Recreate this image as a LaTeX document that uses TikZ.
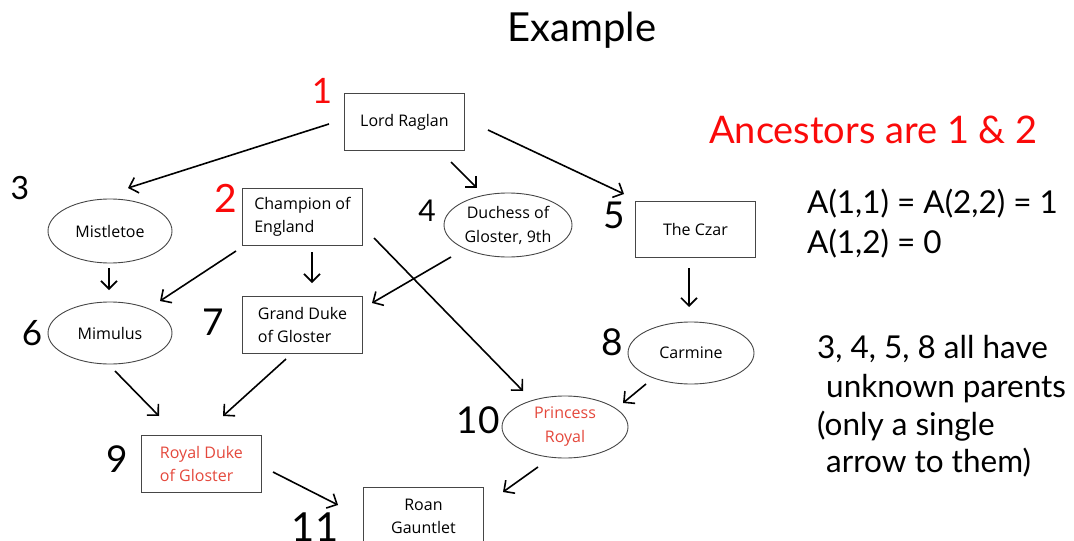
\documentclass[tikz,border=0pt]{standalone}
\usepackage{fontspec}
\setmainfont{Lato}
\newfontfamily\nodefont{Open Sans}
\usetikzlibrary{shapes.geometric,arrows.meta}

\definecolor{hotred}{RGB}{250,10,10}
\definecolor{softred}{RGB}{228,72,60}
\definecolor{edgegray}{RGB}{70,70,70}

\tikzset{
  box/.style={draw=edgegray, line width=0.9pt, rectangle, minimum width=120pt,
    minimum height=57pt, inner sep=0pt, align=left,
    font=\nodefont\fontsize{16}{23}\selectfont},
  oval/.style={draw=edgegray, line width=0.9pt, ellipse, minimum width=126pt,
    minimum height=62pt, inner sep=0pt, align=center,
    font=\nodefont\fontsize{16}{24}\selectfont},
  link/.style={line width=1.6pt, -{Straight Barb[length=8pt,width=16pt,line width=1.6pt]}},
  num/.style={inner sep=0pt, font=\fontsize{37}{37}\selectfont},
  remark/.style={inner sep=0pt, anchor=base west, font=\fontsize{31.5}{31.5}\selectfont},
}

\begin{document}
\begin{tikzpicture}[x=1pt,y=-1pt]
\useasboundingbox (0,0) rectangle (1074,541);

% title
\node[inner sep=0pt, font=\fontsize{40}{40}\selectfont] (title) at (582,30) {Example};

% pedigree members
\node[box, anchor=north west, align=center] (raglan) at (344,93) {Lord Raglan};
\node[oval, minimum width=124pt, minimum height=64pt] (mistletoe) at (110,231) {Mistletoe};
\node[box, anchor=north west] (champion) at (242,188) {Champion of\\England};
\node[oval, minimum width=128pt, minimum height=64pt] (duchess) at (508,225) {Duchess of\\Gloster, 9th};
\node[box, anchor=north west, minimum height=56pt] (czar) at (635,201) {The Czar};
\node[oval, minimum width=124pt] (mimulus) at (110,333) {Mimulus};
\node[box, anchor=north west] (grandduke) at (242,296) {Grand Duke\\of Gloster};
\node[oval] (carmine) at (691,353) {Carmine};
\node[box, anchor=north west, text=softred] (royalduke) at (141,435) {Royal Duke\\of Gloster};
\node[oval, text=softred] (princess) at (565,427) {Princess\\Royal};
\node[box, anchor=north west, align=center] (roan) at (363,487) {Roan\\Gauntlet};

% member numbers
\node[num, text=hotred, font=\fontsize{35}{35}\selectfont] (n1) at (322,91) {1};
\node[num, text=hotred, font=\fontsize{39}{39}\selectfont] (n2) at (226,198) {2};
\node[num, font=\fontsize{32}{32}\selectfont] (n3) at (20,188) {3};
\node[num, font=\fontsize{30}{30}\selectfont] (n4) at (427,211) {4};
\node[num] (n5) at (614,215) {5};
\node[num, font=\fontsize{35}{35}\selectfont] (n6) at (32,333) {6};
\node[num] (n7) at (213,322) {7};
\node[num] (n8) at (612,342) {8};
\node[num] (n9) at (117,459) {9};
\node[num] (n10) at (478,420) {10};
\node[num, font=\fontsize{40}{40}\selectfont] (n11) at (315,527) {11};

% connector ends
\coordinate (raglan-o1) at (329,124);  \coordinate (mistletoe-i) at (128,188);
\coordinate (raglan-o2) at (451,162);  \coordinate (duchess-i) at (477,188);
\coordinate (raglan-o3) at (488,130);  \coordinate (czar-i) at (624,194);
\coordinate (mistletoe-o) at (109,268); \coordinate (mimulus-i1) at (109,290);
\coordinate (champion-o1) at (236,251); \coordinate (mimulus-i2) at (160,301);
\coordinate (champion-o2) at (312,252); \coordinate (grandduke-i1) at (312,283);
\coordinate (duchess-o) at (451,257);  \coordinate (grandduke-i2) at (372,303);
\coordinate (champion-o3) at (374,238); \coordinate (princess-i1) at (523,391);
\coordinate (mimulus-o) at (115,371);  \coordinate (royalduke-i1) at (159,416);
\coordinate (grandduke-o) at (286,359); \coordinate (royalduke-i2) at (223,416);
\coordinate (royalduke-o) at (273,472); \coordinate (roan-i1) at (338,505);
\coordinate (czar-o) at (689,268);     \coordinate (carmine-i) at (689,307);
\coordinate (carmine-o) at (646,384);  \coordinate (princess-i2) at (623,403);
\coordinate (princess-o) at (538,467); \coordinate (roan-i2) at (503,492);

% parent -> child arrows
\draw[link] (raglan-o1) -- (mistletoe-i);
\draw[link] (raglan-o2) -- (duchess-i);
\draw[link] (raglan-o3) -- (czar-i);
\draw[link] (mistletoe-o) -- (mimulus-i1);
\draw[link] (champion-o1) -- (mimulus-i2);
\draw[link] (champion-o2) -- (grandduke-i1);
\draw[link] (duchess-o) -- (grandduke-i2);
\draw[link] (champion-o3) -- (princess-i1);
\draw[link] (mimulus-o) -- (royalduke-i1);
\draw[link] (grandduke-o) -- (royalduke-i2);
\draw[link] (royalduke-o) -- (roan-i1);
\draw[link] (czar-o) -- (carmine-i);
\draw[link] (carmine-o) -- (princess-i2);
\draw[link] (princess-o) -- (roan-i2);

% notes on the right
\node[remark, text=hotred, font=\fontsize{38}{38}\selectfont] (anc) at (709,143) {Ancestors are 1 \& 2};
\node[remark] (rel1) at (807,213) {A(1,1) = A(2,2) = 1};
\node[remark] (rel2) at (807,253) {A(1,2) = 0};
\node[remark] (unk1) at (817,358) {3, 4, 5, 8 all have};
\node[remark] (unk2) at (826,397) {unknown parents};
\node[remark] (unk3) at (817,435) {(only a single};
\node[remark] (unk4) at (826,472) {arrow to them)};
\end{tikzpicture}
\end{document}
